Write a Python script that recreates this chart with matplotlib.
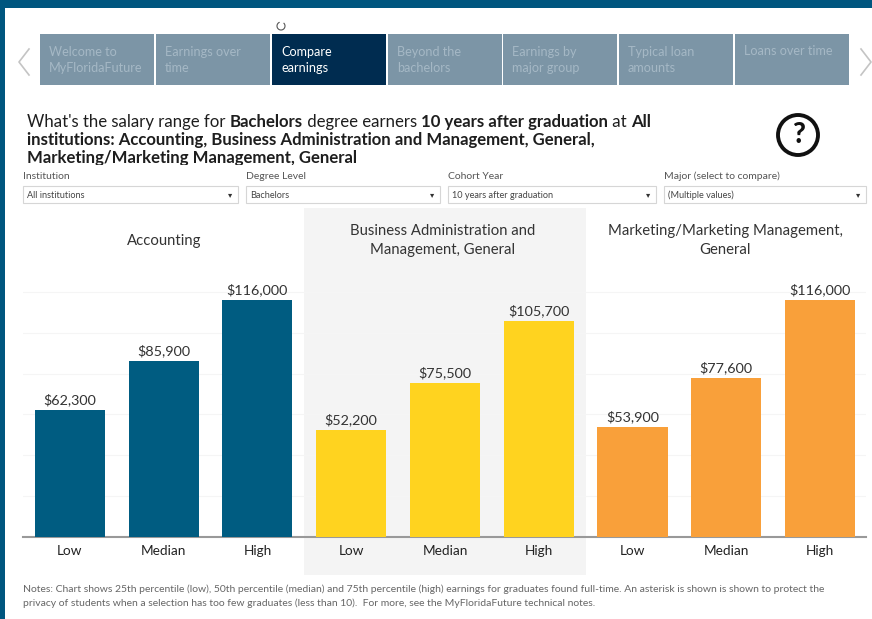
import matplotlib
matplotlib.use('Agg')
from matplotlib import pyplot as plt
from matplotlib.patches import Rectangle, Circle, Arc

plt.rcParams['font.family'] = ['Lato', 'DejaVu Sans']

W, H = 872, 619

# data
groups = ['Accounting', 'Business Administration and\nManagement, General', 'Marketing/Marketing Management,\nGeneral']
levels = ['Low', 'Median', 'High']
accounting = [62300, 85900, 116000]
business = [52200, 75500, 105700]
marketing = [53900, 77600, 116000]
grid_vals = [20000, 40000, 60000, 80000, 100000, 120000]

tabs = ['Welcome to\nMyFloridaFuture', 'Earnings over\ntime', 'Compare\nearnings', 'Beyond the\nbachelors',
        'Earnings by\nmajor group', 'Typical loan\namounts', 'Loans over time']
tab_left = [40, 156, 272, 388, 503, 619, 735]
tab_text_y = [60, 60, 60, 60, 60, 60, 51]

filter_names = ['Institution', 'Degree Level', 'Cohort Year', 'Major (select to compare)']
filter_values = ['All institutions', 'Bachelors', '10 years after graduation', '(Multiple values)']
filter_left = [23, 246, 448, 664]
filter_right = [238, 440, 656, 866]

title_lines = [
    [("What's the salary range for ", 'normal'), ('Bachelors', 'bold'), (' degree earners ', 'normal'),
     ('10 years after graduation', 'bold'), (' at ', 'normal'), ('All', 'bold')],
    [('institutions: Accounting, Business Administration and Management, General,', 'bold')],
    [('Marketing/Marketing Management, General', 'bold')],
]
title_y = [122, 140, 158]

notes = ['Notes: Chart shows 25th percentile (low), 50th percentile (median) and 75th percentile (high) earnings for graduates found full-time. An asterisk is shown is shown to protect the',
         'privacy of students when a selection has too few graduates (less than 10).  For more, see the MyFloridaFuture technical notes.']

fig = plt.figure(figsize=(W / 100, H / 100), dpi=100, facecolor='white')

# page layer in pixel coords
page = fig.add_axes([0, 0, 1, 1], zorder=0)
page.set_xlim(0, W)
page.set_ylim(H, 0)
page.axis('off')

page.add_patch(Rectangle((0, 0), W, 8, color='#00567f', lw=0))
page.add_patch(Rectangle((0, 0), 5, H, color='#00567f', lw=0))
page.add_patch(Rectangle((304, 208), 282, 367, color='#f4f4f4', lw=0))

for i, t in enumerate(tabs):
    active = i == 2
    page.add_patch(Rectangle((tab_left[i], 34), 114, 51, color='#002c50' if active else '#7c95a6', lw=0))
    page.text(tab_left[i] + 9, tab_text_y[i], t, color='white' if active else '#a5b8c5', fontsize=9.1,
              va='center', ha='left', linespacing=1.35)

page.plot([29, 19, 29], [49, 62, 75], color='#c4c4c4', lw=1.2)
page.plot([861, 871, 861], [49, 62, 75], color='#c4c4c4', lw=1.2)
page.add_patch(Arc((281, 26), 8, 8, theta1=-50, theta2=250, color='#555555', lw=0.8))

# title, runs placed one after another
renderer = fig.canvas.get_renderer()
inv = page.transData.inverted()
for runs, y in zip(title_lines, title_y):
    x = 27
    for s, w in runs:
        txt = page.text(x, y, s, fontsize=12.1, fontweight=w, color='#1e1e1e', va='center', ha='left')
        box = txt.get_window_extent(renderer)
        x = inv.transform((box.x1, 0))[0]
page.add_patch(Rectangle((20, 164.5), 400, 6, color='white', lw=0, zorder=5))

page.add_patch(Circle((798, 135), 20, fill=False, ec='#111111', lw=2.8))
page.text(798, 135, '?', fontsize=20, fontweight='black', color='#111111', ha='center', va='center')

for i in range(4):
    page.text(filter_left[i], 176.5, filter_names[i], fontsize=7.5, color='#555555', va='center', zorder=6)
    page.add_patch(Rectangle((filter_left[i], 186), filter_right[i] - filter_left[i], 17, fc='white', ec='#d6d6d6', lw=0.8, zorder=6))
    page.text(filter_left[i] + 4, 195, filter_values[i], fontsize=6.6, color='#444444', va='center', zorder=7)
    page.text(filter_right[i] - 8, 195, '▾', fontsize=6, color='#333333', ha='center', va='center', zorder=7)

for y, s in zip([589, 603], notes):
    page.text(23, y, s, fontsize=7.5, color='#666666', va='center')

for x, y, s in zip([164, 443, 725], [241, 240.5, 240.5], groups):
    page.text(x, y, s, fontsize=10.7, color='#333333', ha='center', va='center', linespacing=1.45)

# chart
ax = fig.add_axes([23 / W, (H - 537) / H, (866 - 23) / W, (537 - 210) / H], zorder=1)
ax.patch.set_alpha(0)
values = accounting + business + marketing
colors = ['#005c81'] * 3 + ['#ffd31f'] * 3 + ['#f9a03a'] * 3
xs = list(range(9))
ax.bar(xs, values, width=0.747, color=colors, zorder=3)
ax.set_xlim(-0.5, 8.49)
ax.set_ylim(0, 160000)
ax.set_yticks(grid_vals)
ax.tick_params(axis='y', length=0, labelleft=False)
ax.tick_params(axis='x', length=0, pad=6)
ax.set_xticks(xs)
ax.set_xticklabels(levels * 3, fontsize=9.8, color='#222222')
ax.grid(axis='y', color='#f5f5f5', lw=0.8, zorder=0)
for sp in ['top', 'left', 'right']:
    ax.spines[sp].set_visible(False)
ax.spines['bottom'].set_color('#999999')
ax.spines['bottom'].set_linewidth(1.5)
for x, v in zip(xs, values):
    ax.text(x, v + 1900, '${:,}'.format(v), fontsize=10.4, color='#333333', ha='center', va='bottom')

fig.savefig('out.png', dpi=100)
